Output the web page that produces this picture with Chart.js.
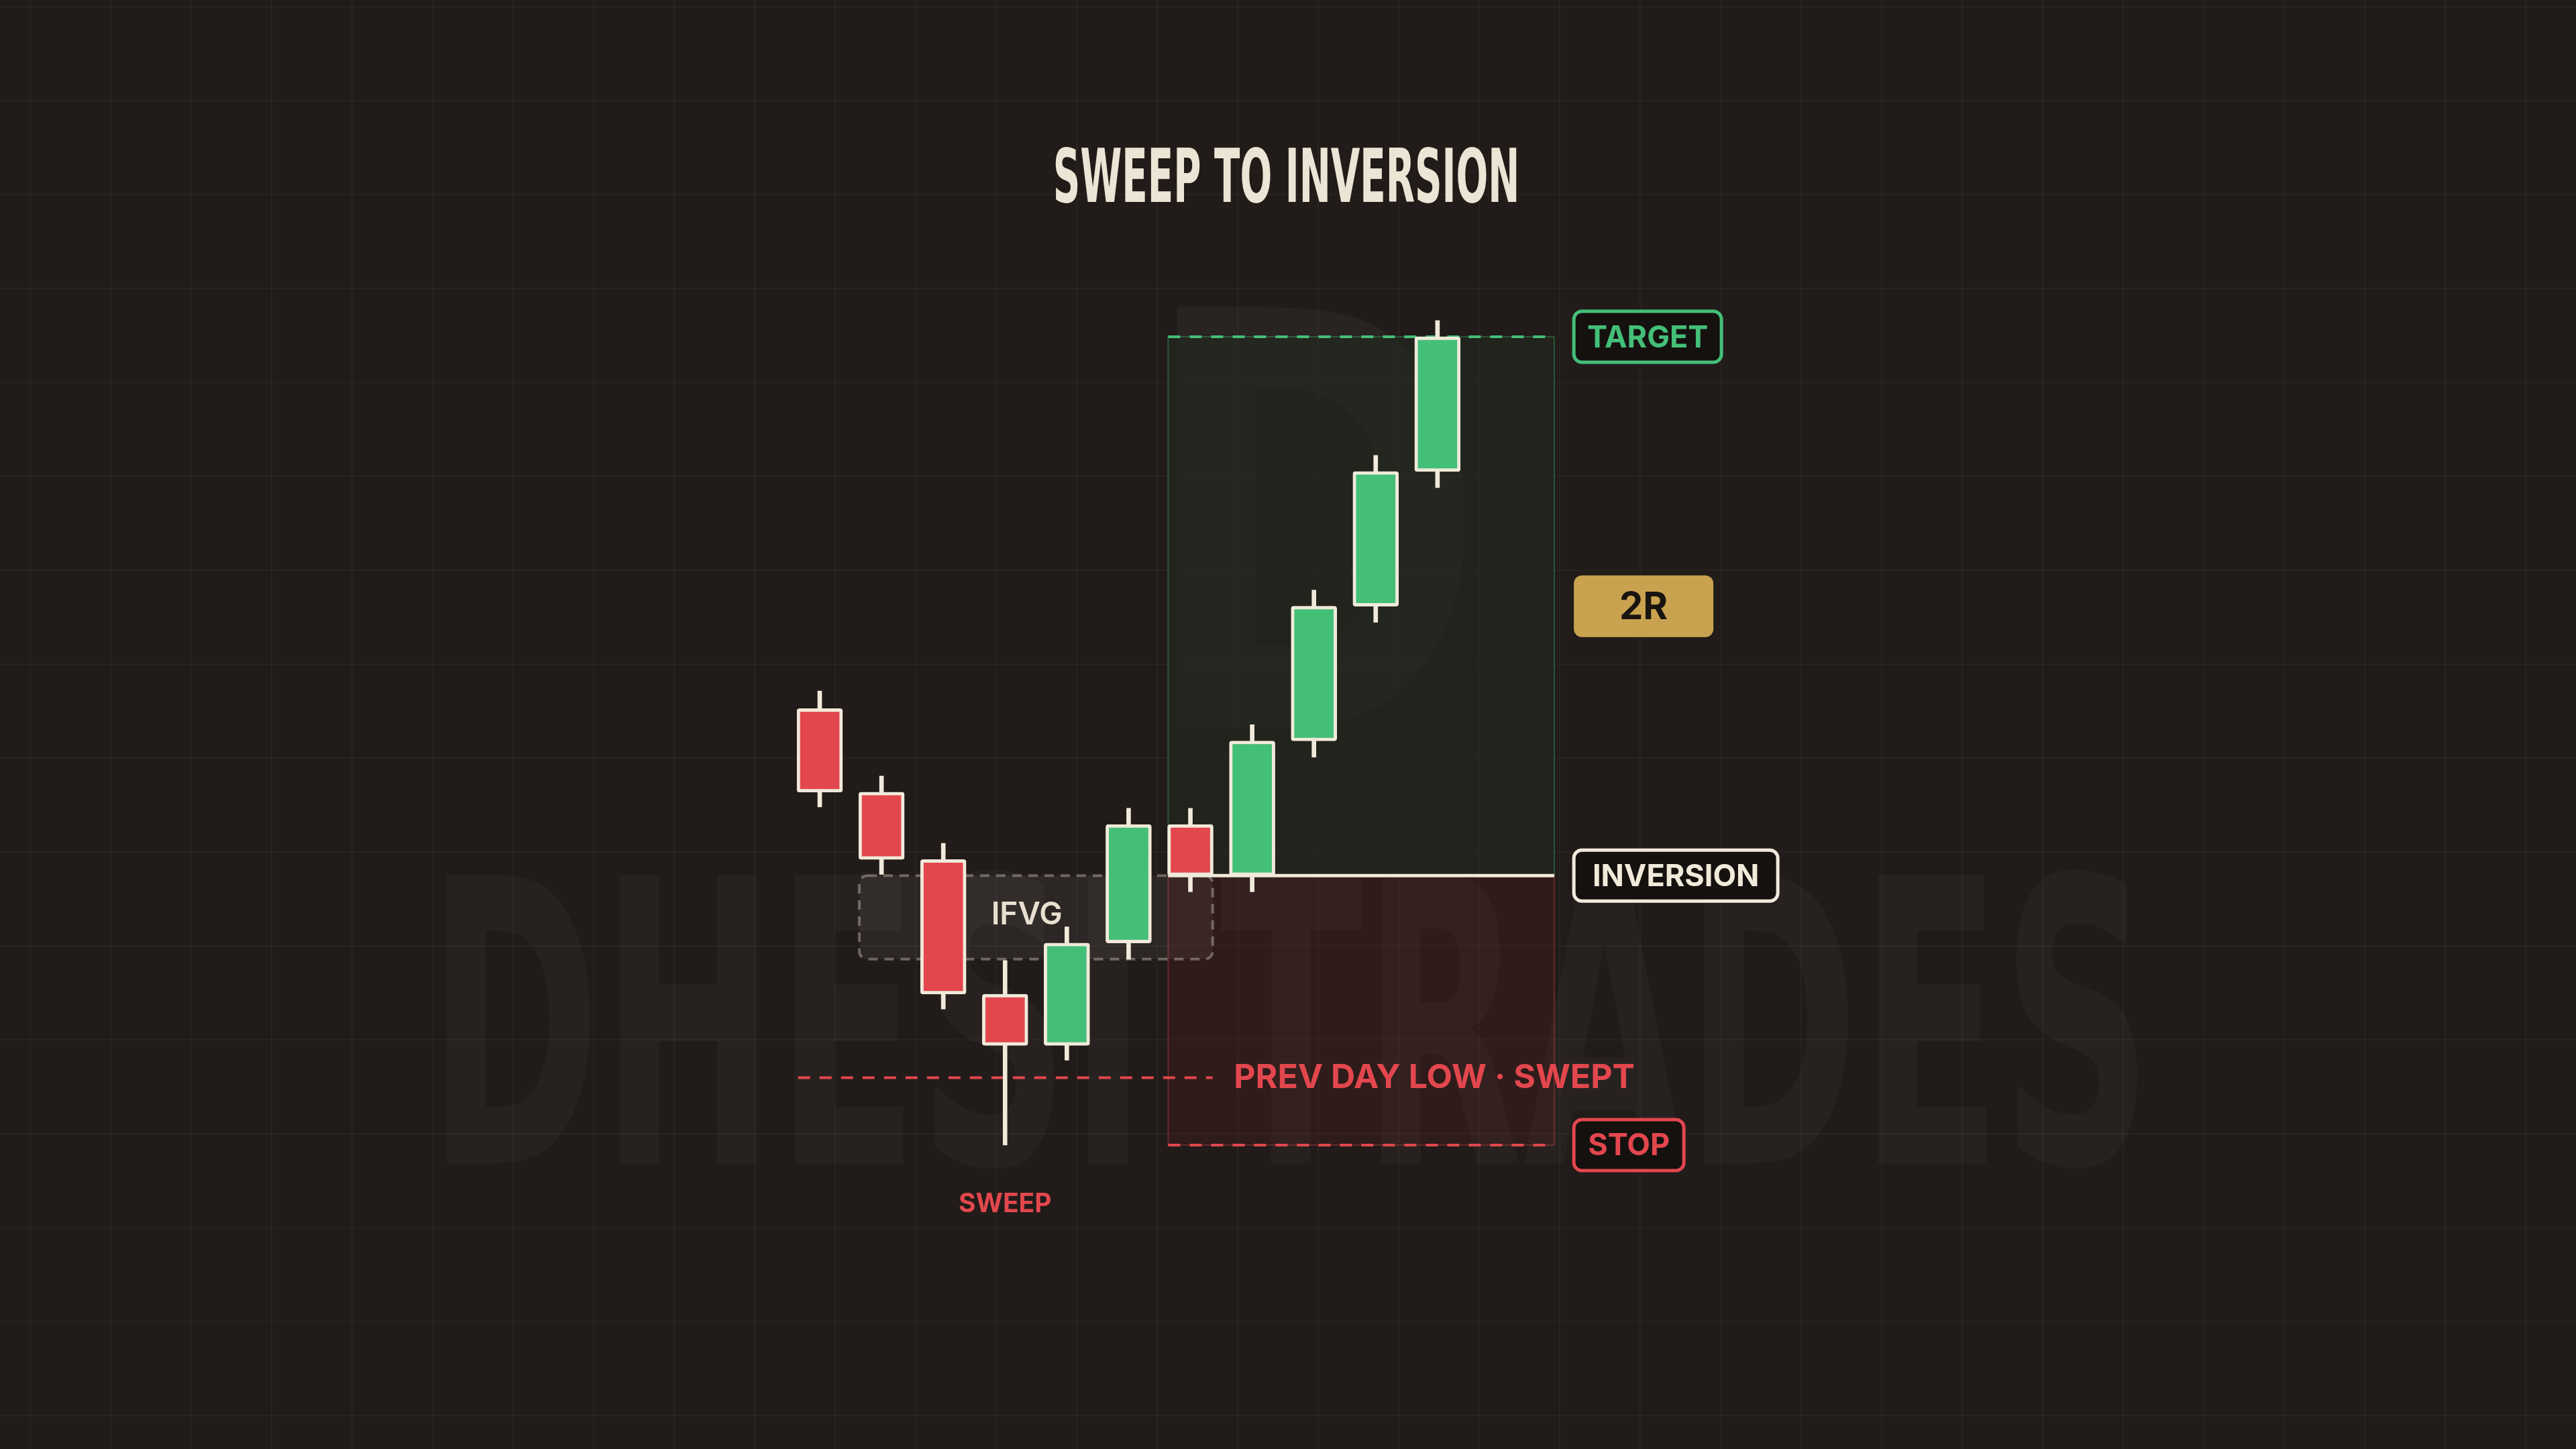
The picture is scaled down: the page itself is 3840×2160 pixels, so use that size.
<!DOCTYPE html>
<html><head><meta charset="utf-8">
<script src="https://cdn.jsdelivr.net/npm/chart.js@4.4.1/dist/chart.umd.min.js"></script>
<style>
html,body{margin:0;padding:0;background:#211b19;overflow:hidden}
canvas{display:block}
</style></head>
<body>
<canvas id="c" width="3840" height="2160"></canvas>
<script>
// candle data (price units; inversion level = 100, stop = 80, target = 140)
const idx   = [0,1,2,3,4,5,6,7,8,9,10];
const opens = [112.4,106.2,101.2,91.2,87.4,95.0,103.8,100.0,110.0,120.0,130.0];
const closes= [106.2,101.2,91.2,87.4,95.0,103.8,100.0,110.0,120.0,130.0,140.0];
const highs = [113.7,107.4,102.4,93.7,96.2,105.0,105.0,111.2,121.2,131.2,141.2];
const lows  = [105.1,100.1,90.1,80.0,86.3,93.8,98.8,98.8,108.8,118.8,128.8];
const levels = {inversion:100, stop:80, target:140, prevDayLow:85};
const ifvg = {x0:0.64, x1:6.36, top:100, bottom:93.8};
const zoneX = [5.64, 11.89];

const GREEN="#44bf78", RED="#e2474d", CREAM="#f1eadb", GOLD="#c9a24f", DARK="#15110f";
const S=3840/1568;
const COND="'DejaVu Sans Condensed','DejaVu Sans',sans-serif";

// draw text squeezed to a given width
function fitText(c,txt,cx,cy,size,width){
  c.save();c.font="bold "+size+"px "+COND;
  const w=c.measureText(txt).width;
  c.translate(cx,cy);c.scale(width/w,1);c.textAlign="center";c.fillText(txt,0,0);c.restore();
}

const bgPlugin={id:"bg",beforeDraw(ch){
  const c=ch.ctx,W=ch.width,H=ch.height;
  c.save();c.fillStyle="#211b19";c.fillRect(0,0,W,H);
  c.strokeStyle="rgba(255,255,255,0.035)";c.lineWidth=2;
  for(let x=45;x<W;x+=120){c.beginPath();c.moveTo(x,0);c.lineTo(x,H);c.stroke();}
  for(let y=10;y<H;y+=140){c.beginPath();c.moveTo(0,y);c.lineTo(W,y);c.stroke();}
  // watermark
  c.fillStyle="rgba(255,255,255,0.03)";c.textBaseline="alphabetic";
  fitText(c,"DHESI TRADES",785*S,708*S,590,1050*S);
  c.fillStyle="rgba(255,255,255,0.04)";
  fitText(c,"D",799*S,443*S,860,212*S);
  const xs=ch.scales.x,ys=ch.scales.y;
  const zx0=xs.getPixelForValue(zoneX[0]),zx1=xs.getPixelForValue(zoneX[1]);
  const yT=ys.getPixelForValue(levels.target),yI=ys.getPixelForValue(levels.inversion),yS=ys.getPixelForValue(levels.stop);
  c.fillStyle="rgba(34,42,30,0.6)";c.fillRect(zx0,yT,zx1-zx0,yI-yT);
  c.strokeStyle="rgba(68,191,120,0.35)";c.lineWidth=2;c.strokeRect(zx0,yT,zx1-zx0,yI-yT);
  c.fillStyle="rgba(80,30,30,0.3)";c.fillRect(zx0,yI,zx1-zx0,yS-yI);
  c.strokeStyle="rgba(226,71,77,0.35)";c.strokeRect(zx0,yI,zx1-zx0,yS-yI);
  // ifvg box
  const bx0=xs.getPixelForValue(ifvg.x0),bx1=xs.getPixelForValue(ifvg.x1);
  const by0=ys.getPixelForValue(ifvg.top),by1=ys.getPixelForValue(ifvg.bottom);
  c.fillStyle="rgba(255,255,255,0.05)";
  c.beginPath();c.roundRect(bx0,by0,bx1-bx0,by1-by0,12);c.fill();
  c.setLineDash([14,10]);c.strokeStyle="rgba(200,190,175,0.45)";c.lineWidth=4;c.stroke();
  c.setLineDash([]);
  // level lines
  c.lineWidth=4;
  c.setLineDash([18,14]);c.strokeStyle=GREEN;
  c.beginPath();c.moveTo(zx0,yT);c.lineTo(zx1,yT);c.stroke();
  c.strokeStyle=RED;
  c.beginPath();c.moveTo(zx0,yS);c.lineTo(zx1,yS);c.stroke();
  const yP=ys.getPixelForValue(levels.prevDayLow);
  c.beginPath();c.moveTo(xs.getPixelForValue(-0.35),yP);c.lineTo(bx1,yP);c.stroke();
  c.setLineDash([]);c.strokeStyle=CREAM;c.lineWidth=5;
  c.beginPath();c.moveTo(zx0,yI);c.lineTo(zx1,yI);c.stroke();
  c.restore();
},afterDraw(ch){
  const c=ch.ctx,xs=ch.scales.x,ys=ch.scales.y;
  c.save();
  c.fillStyle="#ece4d4";c.textBaseline="alphabetic";
  fitText(c,"SWEEP TO INVERSION",783*S,123*S,110,284*S);
  c.textAlign="center";c.textBaseline="middle";
  c.font="600 46px Inter,sans-serif";c.fillStyle="#e8dfcf";
  c.fillText("IFVG",625*S,557*S);
  c.fillStyle=RED;c.font="bold 39px Inter,sans-serif";
  c.fillText("SWEEP",xs.getPixelForValue(3),733*S);
  c.textAlign="left";c.font="bold 50px Inter,sans-serif";
  c.fillText("PREV DAY LOW · SWEPT",751*S,ys.getPixelForValue(levels.prevDayLow));
  const tag=(txt,y,w,fill,stroke,col,fs)=>{
    const x=958*S,h=fs>46?92:76;
    c.beginPath();c.roundRect(x,y-h/2,w,h,12);c.fillStyle=fill;c.fill();
    if(stroke){c.lineWidth=5;c.strokeStyle=stroke;c.stroke();}
    c.fillStyle=col;c.textAlign="center";c.font="bold "+fs+"px Inter,sans-serif";
    c.fillText(txt,x+w/2,y+2);
  };
  tag("TARGET",ys.getPixelForValue(levels.target),220,DARK,GREEN,GREEN,45);
  tag("2R",ys.getPixelForValue((levels.target+levels.inversion)/2),208,GOLD,null,"#1a1410",56);
  tag("INVERSION",ys.getPixelForValue(levels.inversion),304,DARK,CREAM,CREAM,45);
  tag("STOP",ys.getPixelForValue(levels.stop),164,DARK,RED,RED,45);
  c.restore();
}};

const colors=opens.map((o,i)=>closes[i]>=o?GREEN:RED);
new Chart(document.getElementById("c"),{
  type:"bar",
  data:{datasets:[
    {label:"wick",data:idx.map(i=>({x:i,y:[lows[i],highs[i]]})),backgroundColor:CREAM,barThickness:6,grouped:false,order:2},
    {label:"body",data:idx.map(i=>({x:i,y:[opens[i],closes[i]]})),backgroundColor:colors,borderColor:CREAM,borderWidth:5,borderSkipped:false,borderRadius:4,barThickness:68,grouped:false,order:1}
  ]},
  options:{responsive:false,animation:false,devicePixelRatio:1,
    layout:{padding:0},
    plugins:{legend:{display:false},tooltip:{enabled:false}},
    scales:{
      x:{type:"linear",offset:false,min:-13.27,max:28.43,display:false},
      y:{min:57.44,max:165,display:false}
    }},
  plugins:[bgPlugin]
});
</script>
</body></html>
